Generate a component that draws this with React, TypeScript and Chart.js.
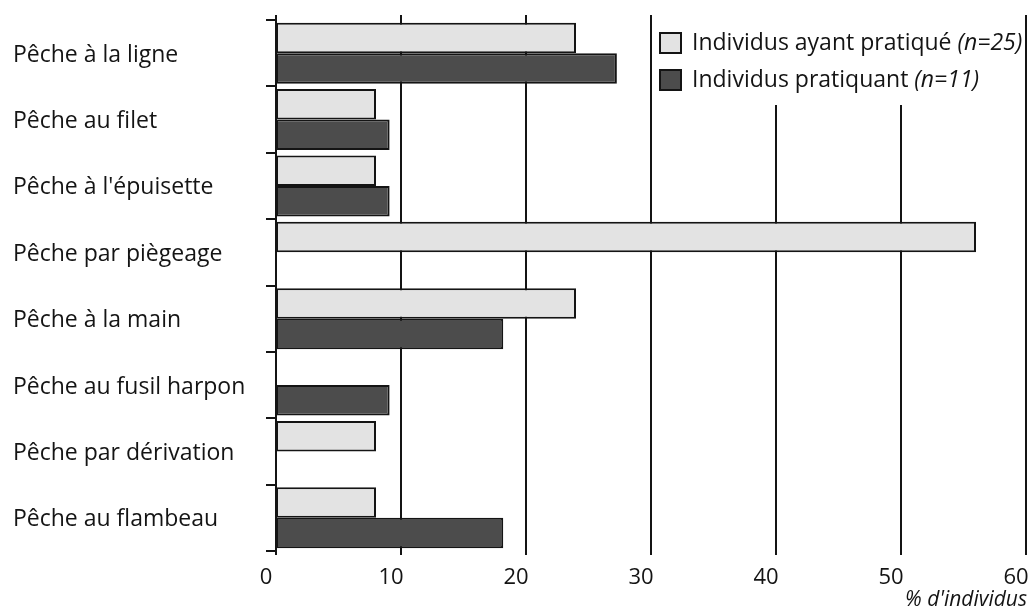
import React, { useEffect, useRef } from "react";
import { Chart, registerables } from "chart.js";

Chart.register(...registerables);

const categories = [
  "Pêche à la ligne",
  "Pêche au filet",
  "Pêche à l'épuisette",
  "Pêche par piègeage",
  "Pêche à la main",
  "Pêche au fusil harpon",
  "Pêche par dérivation",
  "Pêche au flambeau",
];
const seriesAyantPratique = [24, 8, 8, 56, 24, 0, 8, 8];
const seriesPratiquant = [27.27, 9.09, 9.09, 0, 18.18, 9.09, 0, 18.18];
const legendNames = ["Individus ayant pratiqué ", "Individus pratiquant "];
const legendNotes = ["(n=25)", "(n=11)"];
const xTicks = [0, 10, 20, 30, 40, 50, 60];
const xTitle = "% d'individus";

const FONT = "'Open Sans', 'DejaVu Sans', sans-serif";
const LIGHT = "#e3e3e3";
const DARK = "#4c4c4c";
const INK = "#141414";

const gridPlugin = {
  id: "customGrid",
  beforeDatasetsDraw(chart: any) {
    const { ctx, chartArea, scales } = chart;
    const x = scales.x;
    ctx.save();
    ctx.strokeStyle = INK;
    ctx.lineWidth = 2;
    xTicks.forEach((v) => {
      const px = Math.round(x.getPixelForValue(v));
      ctx.beginPath();
      ctx.moveTo(px, chartArea.top - 5);
      ctx.lineTo(px, chartArea.bottom + 4);
      ctx.stroke();
    });
    ctx.restore();
  },
};

const overlayPlugin = {
  id: "customLegend",
  afterDatasetsDraw(chart: any) {
    const { ctx, scales } = chart;
    const x = scales.x;
    const xRight = x.getPixelForValue(xTicks[xTicks.length - 1]);
    const left = x.getPixelForValue(30) + 4;
    ctx.save();
    ctx.fillStyle = "#ffffff";
    ctx.fillRect(left, 0, xRight - 4 - left, 105);
    const colors = [LIGHT, DARK];
    const rowsY = [43, 80];
    legendNames.forEach((name, i) => {
      const cy = rowsY[i];
      const bx = left + 5;
      ctx.fillStyle = colors[i];
      ctx.fillRect(bx, cy - 10, 21, 20);
      ctx.strokeStyle = INK;
      ctx.lineWidth = 2;
      ctx.strokeRect(bx, cy - 10, 21, 20);
      ctx.fillStyle = INK;
      ctx.textBaseline = "middle";
      ctx.textAlign = "left";
      ctx.font = `normal 23px ${FONT}`;
      const tx = bx + 32;
      ctx.fillText(name, tx, cy);
      const w = ctx.measureText(name).width;
      ctx.font = `italic 23px ${FONT}`;
      ctx.fillText(legendNotes[i], tx + w, cy);
    });
    ctx.restore();
  },
};

export default function App() {
  const canvasRef = useRef<HTMLCanvasElement | null>(null);

  useEffect(() => {
    if (!canvasRef.current) return;
    const chart = new Chart(canvasRef.current, {
      type: "bar",
      data: {
        labels: categories,
        datasets: [
          {
            label: legendNames[0] + legendNotes[0],
            data: seriesAyantPratique,
            backgroundColor: LIGHT,
            borderColor: INK,
            borderWidth: 2,
            borderSkipped: false,
            categoryPercentage: 0.92,
            barPercentage: 1,
          },
          {
            label: legendNames[1] + legendNotes[1],
            data: seriesPratiquant,
            backgroundColor: DARK,
            borderColor: INK,
            borderWidth: 2,
            borderSkipped: false,
            categoryPercentage: 0.92,
            barPercentage: 1,
          },
        ],
      },
      options: {
        indexAxis: "y",
        animation: false,
        responsive: true,
        maintainAspectRatio: false,
        layout: { padding: { left: 13, right: 5, top: 20, bottom: 0 } },
        plugins: {
          legend: { display: false },
          tooltip: { enabled: false },
        },
        scales: {
          x: {
            type: "linear",
            min: 0,
            max: 60,
            grid: { display: false, drawTicks: false },
            border: { display: false },
            ticks: {
              stepSize: 10,
              labelOffset: -10,
              padding: 14,
              color: INK,
              font: { family: FONT, size: 22 },
            },
            afterFit(scale: any) {
              scale.height = 61;
              scale.paddingLeft = 0;
              scale.paddingRight = 0;
            },
          },
          y: {
            type: "category",
            grid: {
              display: true,
              drawOnChartArea: false,
              drawTicks: true,
              tickLength: 10,
              color: INK,
              lineWidth: 2,
              offset: true,
            },
            border: { display: false },
            ticks: {
              crossAlign: "far",
              labelOffset: 2,
              color: INK,
              font: { family: FONT, size: 23 },
            },
            afterFit(scale: any) {
              scale.width = 263;
              scale.paddingTop = 0;
              scale.paddingBottom = 0;
            },
          },
        },
      },
      plugins: [gridPlugin, overlayPlugin],
    } as any);
    return () => chart.destroy();
  }, []);

  return (
    <div
      style={{
        position: "fixed",
        left: 0,
        top: 0,
        width: 1031,
        height: 612,
        background: "#fff",
      }}
    >
      <canvas ref={canvasRef} />
      <div
        style={{
          position: "absolute",
          right: 4,
          top: 586,
          fontFamily: FONT,
          fontStyle: "italic",
          fontSize: 21,
          lineHeight: "24px",
          color: INK,
          whiteSpace: "nowrap",
        }}
      >
        {xTitle}
      </div>
    </div>
  );
}
